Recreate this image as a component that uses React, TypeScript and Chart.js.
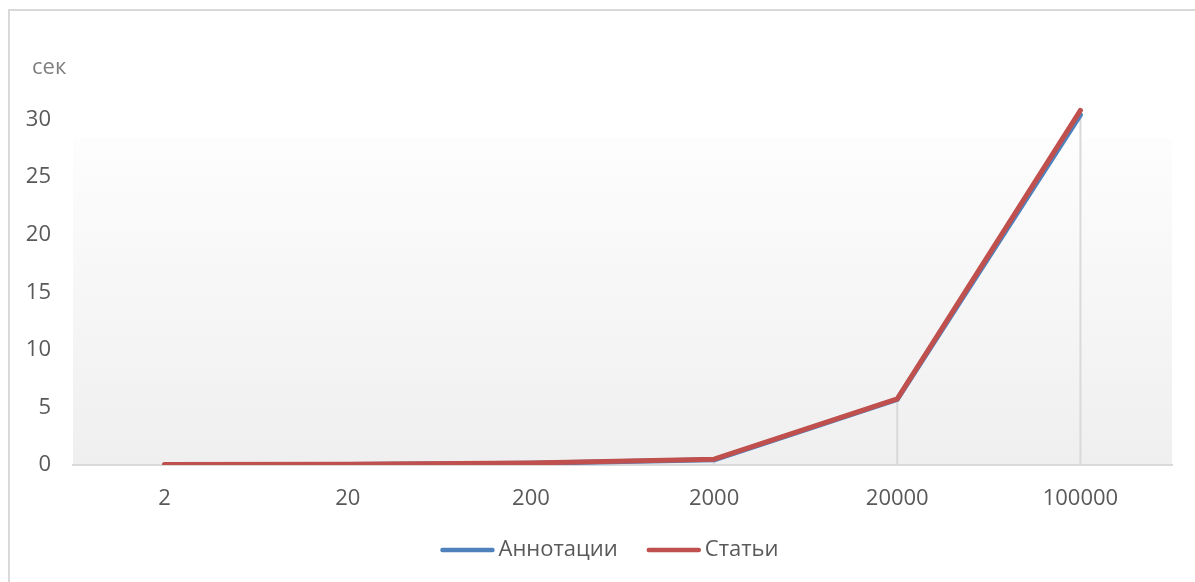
import React, { useEffect, useRef } from 'react';
import { Chart, registerables } from 'chart.js';

Chart.register(...registerables);

// Number of records processed
const categories = ['2', '20', '200', '2000', '20000', '100000'];
// Processing time, seconds
const annotationSeconds = [0.03, 0.05, 0.15, 0.45, 5.7, 30.4];
const articleSeconds = [0.04, 0.06, 0.18, 0.5, 5.75, 30.8];
const yTicks = [0, 5, 10, 15, 20, 25, 30];
const seriesNames = ['Аннотации', 'Статьи'];
const unitLabel = 'сек';

const FONT = "'Open Sans', sans-serif";
const TEXT_COLOR = '#595959';
const LINE_GREY = '#d9d9d9';
const BLUE = '#4f81bd';
const RED = '#c0504d';

// Soft vertical gradient behind the plot, starting a little below the top of the value range
const plotFill = {
  id: 'plotFill',
  beforeDraw(chart: any) {
    const { ctx, chartArea } = chart;
    const top = chartArea.top + (chartArea.bottom - chartArea.top) * 0.19;
    const g = ctx.createLinearGradient(0, top, 0, chartArea.bottom);
    g.addColorStop(0, '#fdfdfd');
    g.addColorStop(1, '#efefef');
    ctx.save();
    ctx.fillStyle = g;
    ctx.fillRect(chartArea.left, top, chartArea.right - chartArea.left, chartArea.bottom - top);
    ctx.restore();
  },
};

// Drop lines from the highest point of each category down to the category axis
const dropLines = {
  id: 'dropLines',
  beforeDatasetsDraw(chart: any) {
    const { ctx } = chart;
    const yScale = chart.scales.y;
    const metas = chart.data.datasets.map((_: any, i: number) => chart.getDatasetMeta(i));
    ctx.save();
    ctx.strokeStyle = LINE_GREY;
    ctx.lineWidth = 2;
    categories.forEach((_, idx) => {
      let topY = Infinity;
      let x = 0;
      metas.forEach((m: any) => {
        const el = m.data[idx];
        if (el && el.y < topY) {
          topY = el.y;
          x = el.x;
        }
      });
      ctx.beginPath();
      ctx.moveTo(x, topY);
      ctx.lineTo(x, yScale.getPixelForValue(0));
      ctx.stroke();
    });
    ctx.restore();
  },
};

// Unit caption above the value axis and the legend below the chart
const captions = {
  id: 'captions',
  afterDraw(chart: any) {
    const { ctx, chartArea } = chart;
    const yScale = chart.scales.y;
    ctx.save();
    ctx.font = `22px ${FONT}`;
    ctx.textBaseline = 'middle';
    ctx.textAlign = 'left';
    ctx.fillStyle = '#7f7f7f';
    ctx.fillText(unitLabel, chartArea.left - 41, yScale.getPixelForValue(35) + 6);

    const lineLen = 54;
    const gap = 4;
    const itemGap = 29;
    const items = chart.data.datasets.map((ds: any) => ({
      label: ds.label,
      color: ds.borderColor,
      w: ctx.measureText(ds.label).width,
    }));
    const total =
      items.reduce((s: number, it: any) => s + lineLen + gap + it.w, 0) + itemGap * (items.length - 1);
    let x = chart.width / 2 - total / 2 + 7;
    const y = chart.height - 32;
    items.forEach((it: any) => {
      ctx.strokeStyle = it.color;
      ctx.lineWidth = 4.5;
      ctx.lineCap = 'round';
      ctx.beginPath();
      ctx.moveTo(x + 2, y);
      ctx.lineTo(x + lineLen - 2, y);
      ctx.stroke();
      ctx.fillStyle = TEXT_COLOR;
      ctx.fillText(it.label, x + lineLen + gap, y);
      x += lineLen + gap + it.w + itemGap;
    });
    ctx.restore();
  },
};

function TimingChart() {
  const canvasRef = useRef<HTMLCanvasElement | null>(null);

  useEffect(() => {
    const canvas = canvasRef.current;
    if (!canvas) return;
    const chart = new Chart(canvas, {
      type: 'line',
      data: {
        labels: categories,
        datasets: [
          {
            label: seriesNames[0],
            data: annotationSeconds,
            borderColor: BLUE,
            backgroundColor: BLUE,
            borderWidth: 5,
            pointRadius: 0,
            tension: 0,
            borderCapStyle: 'round',
            borderJoinStyle: 'round',
            order: 1,
          },
          {
            label: seriesNames[1],
            data: articleSeconds,
            borderColor: RED,
            backgroundColor: RED,
            borderWidth: 5,
            pointRadius: 0,
            tension: 0,
            borderCapStyle: 'round',
            borderJoinStyle: 'round',
            order: 0,
          },
        ],
      },
      options: {
        responsive: false,
        animation: false,
        layout: { padding: { top: 51, right: 23, left: 0, bottom: 0 } },
        plugins: {
          legend: { display: false },
          tooltip: { enabled: false },
        },
        scales: {
          x: {
            offset: true,
            grid: { display: false, drawTicks: false, tickLength: 0 },
            border: { display: true, color: LINE_GREY, width: 2 },
            ticks: {
              color: TEXT_COLOR,
              font: { family: FONT, size: 22 },
              padding: 21,
              maxRotation: 0,
              autoSkip: false,
            },
            afterFit(scale: any) {
              scale.height = 117;
            },
          },
          y: {
            min: 0,
            max: 35,
            grid: { display: false, drawTicks: false, tickLength: 0 },
            border: { display: false },
            ticks: {
              color: TEXT_COLOR,
              font: { family: FONT, size: 22 },
              padding: 22,
            },
            afterBuildTicks(scale: any) {
              scale.ticks = yTicks.map((v) => ({ value: v }));
            },
            afterFit(scale: any) {
              scale.width = 63;
            },
          },
        },
      },
      plugins: [plotFill, dropLines, captions],
    });
    return () => chart.destroy();
  }, []);

  return <canvas ref={canvasRef} width={1185} height={571} />;
}

export default function App() {
  return (
    <div
      style={{
        position: 'fixed',
        left: 8,
        top: 9,
        width: 1187,
        height: 573,
        boxSizing: 'border-box',
        borderLeft: `2px solid ${LINE_GREY}`,
        borderTop: `2px solid ${LINE_GREY}`,
        background: '#ffffff',
        overflow: 'hidden',
      }}
    >
      <TimingChart />
    </div>
  );
}
